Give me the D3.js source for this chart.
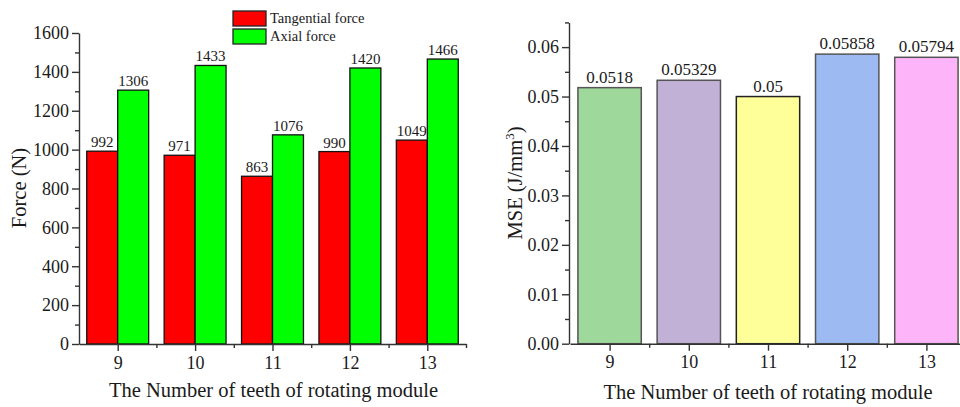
<!DOCTYPE html>
<html>
<head>
<meta charset="utf-8">
<script src="https://cdn.jsdelivr.net/npm/d3@7"></script>
<style>
  html, body { margin: 0; padding: 0; background: #fff; }
  svg { display: block; }
  .axis path, .axis line { stroke: #333; stroke-width: 1.4; }
</style>
</head>
<body>
<svg id="chart" width="960" height="407" font-family="'Liberation Serif', 'Times New Roman', serif"></svg>
<script>
// ---- data ----
const teeth = [9, 10, 11, 12, 13];
const tangentialForce = [992, 971, 863, 990, 1049];
const axialForce = [1306, 1433, 1076, 1420, 1466];
const mseValues = [0.0518, 0.05329, 0.05, 0.05858, 0.05794];
const mseLabels = ["0.0518", "0.05329", "0.05", "0.05858", "0.05794"];
const forceTicks = [0, 200, 400, 600, 800, 1000, 1200, 1400, 1600];
const forceMinorTicks = [100, 300, 500, 700, 900, 1100, 1300, 1500];
const mseTicks = [0, 0.01, 0.02, 0.03, 0.04, 0.05, 0.06];
const mseMinorTicks = [0.005, 0.015, 0.025, 0.035, 0.045, 0.055, 0.065];
const seriesNames = ["Tangential force", "Axial force"];
const seriesColors = ["#FF0000", "#00FF00"];
const mseColors = ["#9FD89B", "#C2B1D6", "#FFFF99", "#9DBBF2", "#FDB4F8"];
const mseStroke = ["#555", "#555", "#222", "#555", "#555"];
const xTitle = "The Number of teeth of rotating module";

const SERIF = "'Liberation Serif', 'Times New Roman', serif";
const svg = d3.select("#chart");

function styleAxis(g) {
  g.attr("font-family", SERIF);
  g.selectAll("text").attr("font-size", 18).attr("fill", "#1a1a1a").attr("font-family", SERIF);
}

// ================= LEFT CHART =================
const xL = d3.scaleLinear().domain([8.5, 13.5]).range([79, 466]);
const yL = d3.scaleLinear().domain([0, 1600]).range([344, 33]);
const gL = svg.append("g");
const bw = 0.4; // bar width in category units

const series = [tangentialForce, axialForce];
series.forEach((vals, si) => {
  const off = si === 0 ? -bw : 0;
  gL.selectAll(".bar" + si).data(teeth).enter().append("rect")
    .attr("x", (d) => xL(d + off))
    .attr("width", xL(8.5 + bw) - xL(8.5))
    .attr("y", (d, i) => yL(vals[i]))
    .attr("height", (d, i) => yL(0) - yL(vals[i]))
    .attr("fill", seriesColors[si])
    .attr("stroke", "#111")
    .attr("stroke-width", 1.3);
  gL.selectAll(".lab" + si).data(teeth).enter().append("text")
    .attr("x", (d) => xL(d + off + bw / 2))
    .attr("y", (d, i) => yL(vals[i]) - 4)
    .attr("text-anchor", "middle")
    .attr("font-size", 15)
    .attr("fill", "#1a1a1a")
    .text((d, i) => vals[i]);
});

// axes left
gL.append("g").attr("class", "axis").attr("transform", "translate(79,0)")
  .call(d3.axisLeft(yL).tickValues(forceTicks).tickSize(7).tickSizeOuter(0).tickPadding(3).tickFormat(d3.format("d")))
  .call(styleAxis);
gL.append("g").attr("class", "axis").attr("transform", "translate(79,0)")
  .call(d3.axisLeft(yL).tickValues(forceMinorTicks).tickSize(4).tickSizeOuter(0).tickFormat(""))
  .call(g => g.select(".domain").remove());
gL.append("g").attr("class", "axis").attr("transform", "translate(0,344)")
  .call(d3.axisBottom(xL).tickValues(teeth).tickSize(7).tickSizeOuter(0).tickPadding(5).tickFormat(d3.format("d")))
  .call(styleAxis);
gL.append("g").attr("class", "axis").attr("transform", "translate(0,344)")
  .call(d3.axisBottom(xL).tickValues([9.5, 10.5, 11.5, 12.5, 13.5]).tickSize(4).tickSizeOuter(0).tickFormat(""))
  .call(g => g.select(".domain").remove());

gL.append("text").attr("x", (xL(8.5) + xL(13.5)) / 2 + 1).attr("y", 397)
  .attr("text-anchor", "middle").attr("font-size", 20.5).attr("fill", "#1a1a1a").text(xTitle);
gL.append("text").attr("transform", "translate(26,188) rotate(-90)")
  .attr("text-anchor", "middle").attr("font-size", 20.5).attr("fill", "#1a1a1a").text("Force (N)");

// legend
seriesNames.forEach((name, i) => {
  gL.append("rect").attr("x", 233).attr("y", 11 + i * 18).attr("width", 33).attr("height", 15)
    .attr("fill", seriesColors[i]).attr("stroke", "#222").attr("stroke-width", 1.3);
  gL.append("text").attr("x", 270).attr("y", 23 + i * 18)
    .attr("font-size", 14.5).attr("fill", "#1a1a1a").text(name);
});

// ================= RIGHT CHART =================
const xR = d3.scaleLinear().domain([8.5, 13.5]).range([570, 966]);
const yR = d3.scaleLinear().domain([0, 0.065]).range([343.7, 22.4]);
const gR = svg.append("g");
const bw2 = 0.8;

gR.selectAll(".mbar").data(teeth).enter().append("rect")
  .attr("x", (d) => xR(d - bw2 / 2))
  .attr("width", xR(8.5 + bw2) - xR(8.5))
  .attr("y", (d, i) => yR(mseValues[i]))
  .attr("height", (d, i) => yR(0) - yR(mseValues[i]))
  .attr("fill", (d, i) => mseColors[i])
  .attr("stroke", (d, i) => mseStroke[i])
  .attr("stroke-width", 1.5);
gR.selectAll(".mlab").data(teeth).enter().append("text")
  .attr("x", (d) => xR(d))
  .attr("y", (d, i) => yR(mseValues[i]) - 5)
  .attr("text-anchor", "middle")
  .attr("font-size", 17)
  .attr("fill", "#1a1a1a")
  .text((d, i) => mseLabels[i]);

gR.append("g").attr("class", "axis").attr("transform", "translate(569,0)")
  .call(d3.axisLeft(yR).tickValues(mseTicks).tickSize(7).tickSizeOuter(0).tickPadding(3).tickFormat(d3.format(".2f")))
  .call(styleAxis);
gR.append("g").attr("class", "axis").attr("transform", "translate(569,0)")
  .call(d3.axisLeft(yR).tickValues(mseMinorTicks).tickSize(4).tickSizeOuter(0).tickFormat(""))
  .call(g => g.select(".domain").remove());
gR.append("g").attr("class", "axis").attr("transform", "translate(0,343.7)")
  .call(d3.axisBottom(xR).tickValues(teeth).tickSize(7).tickSizeOuter(0).tickPadding(5).tickFormat(d3.format("d")))
  .call(styleAxis);
gR.append("g").attr("class", "axis").attr("transform", "translate(0,343.7)")
  .call(d3.axisBottom(xR).tickValues([9.5, 10.5, 11.5, 12.5]).tickSize(4).tickSizeOuter(0).tickFormat(""))
  .call(g => g.select(".domain").remove());

gR.append("text").attr("x", 768).attr("y", 399)
  .attr("text-anchor", "middle").attr("font-size", 20.5).attr("fill", "#1a1a1a").text(xTitle);
const yt = gR.append("text").attr("transform", "translate(522,183) rotate(-90)")
  .attr("text-anchor", "middle").attr("font-size", 20.5).attr("fill", "#1a1a1a");
yt.append("tspan").text("MSE (J/mm");
yt.append("tspan").attr("font-size", 13).attr("dy", -8).text("3");
yt.append("tspan").attr("dy", 8).text(")");
</script>
</body>
</html>
